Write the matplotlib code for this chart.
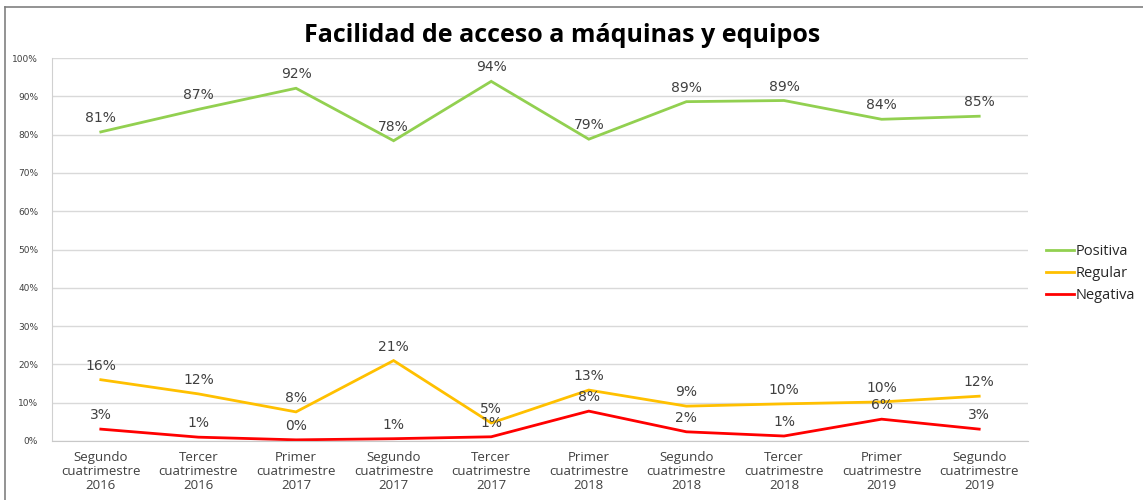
import matplotlib
matplotlib.use("Agg")
import matplotlib.pyplot as plt
from matplotlib.lines import Line2D

categories = [
    "Segundo\ncuatrimestre\n2016", "Tercer\ncuatrimestre\n2016",
    "Primer\ncuatrimestre\n2017", "Segundo\ncuatrimestre\n2017",
    "Tercer\ncuatrimestre\n2017", "Primer\ncuatrimestre\n2018",
    "Segundo\ncuatrimestre\n2018", "Tercer\ncuatrimestre\n2018",
    "Primer\ncuatrimestre\n2019", "Segundo\ncuatrimestre\n2019",
]
positiva = [80.7, 86.6, 92.1, 78.4, 93.9, 78.8, 88.6, 88.9, 84.0, 84.8]
regular = [16.0, 12.3, 7.6, 21.0, 4.7, 13.3, 9.1, 9.7, 10.2, 11.7]
negativa = [3.1, 1.0, 0.3, 0.6, 1.1, 7.8, 2.4, 1.3, 5.7, 3.1]
y_ticks = [0, 10, 20, 30, 40, 50, 60, 70, 80, 90, 100]

series = [
    ("Positiva", positiva, "#92d050"),
    ("Regular", regular, "#ffc000"),
    ("Negativa", negativa, "#ff0000"),
]

W, H = 1143, 500
fig = plt.figure(figsize=(W / 100, H / 100), dpi=100)
ax = fig.add_axes([52 / W, 59 / H, 976 / W, 383 / H])

# outer chart frame (top and left edges)
fig.add_artist(Line2D([5 / W, 1], [1 - 7 / H, 1 - 7 / H], color="#808080", lw=1.2))
fig.add_artist(Line2D([5 / W, 5 / W], [0, 1 - 7 / H], color="#808080", lw=1.2))

x = list(range(len(categories)))
for name, vals, col in series:
    ax.plot(x, vals, color=col, lw=2, label=name, solid_joinstyle="miter")
    for xi, v in zip(x, vals):
        ax.annotate(f"{round(v):.0f}%", (xi, v), xytext=(0, 5),
                    textcoords="offset points", ha="center", va="bottom",
                    fontsize=10, color="#404040", family="DejaVu Sans")

ax.set_xlim(-0.5, len(categories) - 0.5)
ax.set_ylim(0, 100)
ax.set_yticks(y_ticks)
ax.set_yticklabels([f"{t}%" for t in y_ticks], fontsize=6.5, color="#404040",
                   family="DejaVu Sans")
ax.set_xticks(x)
ax.set_xticklabels(categories, fontsize=9.5, color="#404040", family="Open Sans",
                   linespacing=1.1)
ax.tick_params(axis="both", length=0)
ax.tick_params(axis="y", pad=10)
ax.tick_params(axis="x", pad=7)
ax.grid(axis="y", color="#d9d9d9", lw=1)
ax.set_axisbelow(True)
for s in ["top", "right"]:
    ax.spines[s].set_visible(False)
ax.spines["left"].set_color("#d0d0d0")
ax.spines["bottom"].set_color("#c8c8c8")

fig.text(562 / W, 1 - 36 / H, "Facilidad de acceso a máquinas y equipos",
         ha="center", va="center", fontsize=18, fontweight="bold",
         family="Open Sans", color="#000000")

leg = fig.legend(loc="upper left", bbox_to_anchor=(1036 / W, 1 - 234 / H),
                 frameon=False, handlelength=1.9, borderpad=0.2,
                 handletextpad=0.15, labelspacing=0.48,
                 prop={"family": "Open Sans", "size": 10.5})
for t in leg.get_texts():
    t.set_color("#262626")

fig.savefig("out.png", dpi=100, facecolor="white")
